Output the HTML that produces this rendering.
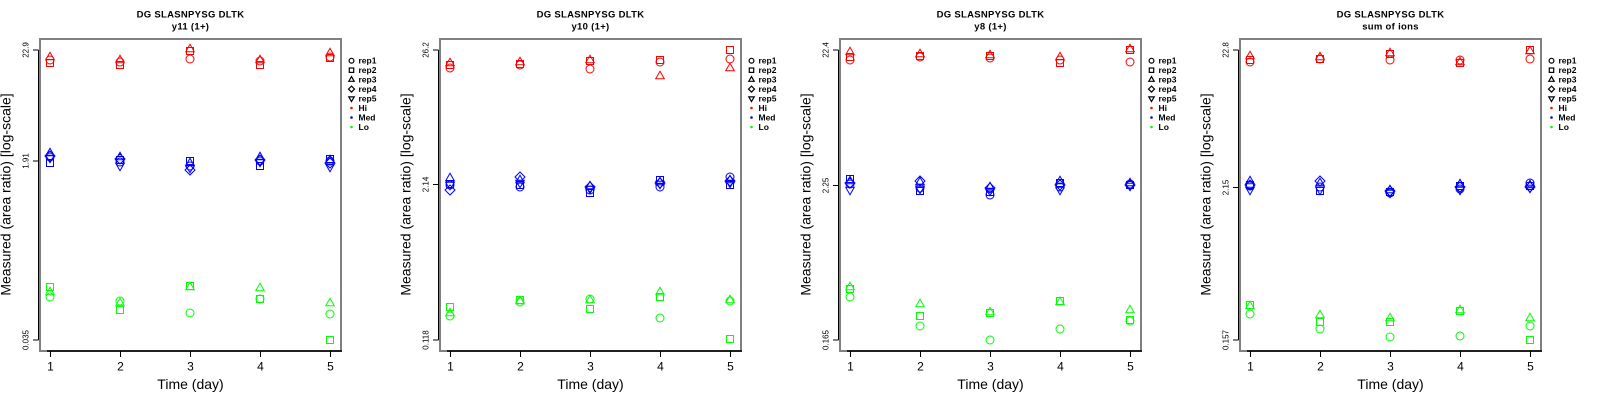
<!DOCTYPE html>
<html><head><meta charset="utf-8"><style>
html,body{margin:0;padding:0;background:#fff;}
svg{display:block;}
text{font-family:"Liberation Sans",sans-serif;fill:#000;}
.t{font-size:9.5px;font-weight:bold;letter-spacing:0.3px;}
.xl{font-size:12px;}
.yl{font-size:8px;}
.lab{font-size:14px;}
.lg{font-size:8.5px;font-weight:bold;}
</style></head><body>
<svg width="1600" height="400" viewBox="0 0 1600 400" xmlns="http://www.w3.org/2000/svg">
<defs>
<circle id="c" cx="0" cy="0" r="4"/>
<rect id="s" x="-3.5" y="-3.5" width="7" height="7"/>
<path id="t" d="M0,-4.8 L4.3,2.7 L-4.3,2.7 Z"/>
<path id="d" d="M0,-5 L5,0 L0,5 L-5,0 Z"/>
<path id="v" d="M0,4.8 L4.3,-2.7 L-4.3,-2.7 Z"/>
<circle id="lc" cx="0" cy="0" r="2.4"/>
<rect id="ls" x="-2.2" y="-2.2" width="4.4" height="4.4"/>
<path id="lt" d="M0,-3 L2.7,1.7 L-2.7,1.7 Z"/>
<path id="ld" d="M0,-3 L3,0 L0,3 L-3,0 Z"/>
<path id="lv" d="M0,3 L2.7,-1.7 L-2.7,-1.7 Z"/>
<g id="frame">
<rect x="40" y="39" width="301" height="312" fill="none" stroke="#808080" stroke-width="2"/>
<line x1="38.5" y1="50" x2="38.5" y2="340" stroke="#000" stroke-width="1"/>
<line x1="47" y1="351" x2="342" y2="351" stroke="#000" stroke-width="1.5"/>
<g stroke="#000" stroke-width="1">
<line x1="33" y1="50" x2="38.5" y2="50"/>
<line x1="33" y1="340" x2="38.5" y2="340"/>
<line x1="50.5" y1="351" x2="50.5" y2="357"/>
<line x1="120.5" y1="351" x2="120.5" y2="357"/>
<line x1="190.5" y1="351" x2="190.5" y2="357"/>
<line x1="260.5" y1="351" x2="260.5" y2="357"/>
<line x1="330.5" y1="351" x2="330.5" y2="357"/>
</g>
<text class="xl" x="50.5" y="370.5" text-anchor="middle">1</text>
<text class="xl" x="120.5" y="370.5" text-anchor="middle">2</text>
<text class="xl" x="190.5" y="370.5" text-anchor="middle">3</text>
<text class="xl" x="260.5" y="370.5" text-anchor="middle">4</text>
<text class="xl" x="330.5" y="370.5" text-anchor="middle">5</text>
<text class="lab" x="190.5" y="389" text-anchor="middle">Time (day)</text>
<text class="lab" transform="translate(10.5,194.5) rotate(-90)" text-anchor="middle">Measured (area ratio) [log-scale]</text>
<text class="t" x="190.5" y="17.5" text-anchor="middle">DG SLASNPYSG DLTK</text>
<g fill="none" stroke="#000" stroke-width="1.2">
<use href="#lc" x="351.5" y="60.7"/>
<use href="#ls" x="351.5" y="70.2"/>
<use href="#lt" x="351.5" y="79.6"/>
<use href="#ld" x="351.5" y="89.1"/>
<use href="#lv" x="351.5" y="98.6"/>
</g>
<circle cx="351.5" cy="108" r="1.3" fill="#ff0000"/>
<circle cx="351.5" cy="117.5" r="1.3" fill="#0000ff"/>
<circle cx="351.5" cy="127" r="1.3" fill="#00ff00"/>
<text class="lg" x="358.5" y="63.7">rep1</text>
<text class="lg" x="358.5" y="73.2">rep2</text>
<text class="lg" x="358.5" y="82.6">rep3</text>
<text class="lg" x="358.5" y="92.1">rep4</text>
<text class="lg" x="358.5" y="101.6">rep5</text>
<text class="lg" x="358.5" y="111">Hi</text>
<text class="lg" x="358.5" y="120.5">Med</text>
<text class="lg" x="358.5" y="130">Lo</text>
</g>
</defs>

<!-- Panel 1 -->
<g transform="translate(0,0)">
<use href="#frame"/>
<text class="t" x="190.5" y="29.5" text-anchor="middle">y11 (1+)</text>
<line x1="33" y1="161" x2="38.5" y2="161" stroke="#000"/>
<text class="yl" transform="translate(28.5,50) rotate(-90)" text-anchor="middle">22.9</text>
<text class="yl" transform="translate(28.5,161) rotate(-90)" text-anchor="middle">1.91</text>
<text class="yl" transform="translate(28.5,340) rotate(-90)" text-anchor="middle">0.035</text>
<g fill="none" stroke="#ff0000" stroke-width="1">
<use href="#c" x="50" y="60"/><use href="#s" x="50" y="63"/><use href="#t" x="50" y="57"/>
<use href="#c" x="120" y="62"/><use href="#s" x="120" y="65"/><use href="#t" x="120" y="60"/>
<use href="#c" x="190" y="59"/><use href="#s" x="190" y="51"/><use href="#t" x="190" y="49"/>
<use href="#c" x="260" y="61"/><use href="#s" x="260" y="65"/><use href="#t" x="260" y="60"/>
<use href="#c" x="330" y="57"/><use href="#s" x="330" y="58"/><use href="#t" x="330" y="53"/>
</g>
<g fill="none" stroke="#0000ff" stroke-width="1">
<use href="#c" x="50" y="157"/><use href="#s" x="50" y="163"/><use href="#t" x="50" y="153"/><use href="#d" x="50" y="156"/><use href="#v" x="50" y="158"/>
<use href="#c" x="120" y="162"/><use href="#s" x="120" y="160"/><use href="#t" x="120" y="157"/><use href="#d" x="120" y="159"/><use href="#v" x="120" y="166"/>
<use href="#c" x="190" y="166"/><use href="#s" x="190" y="161"/><use href="#t" x="190" y="163"/><use href="#d" x="190" y="170"/><use href="#v" x="190" y="168"/>
<use href="#c" x="260" y="161"/><use href="#s" x="260" y="166"/><use href="#t" x="260" y="157"/><use href="#d" x="260" y="160"/><use href="#v" x="260" y="162"/>
<use href="#c" x="330" y="161"/><use href="#s" x="330" y="159"/><use href="#t" x="330" y="160"/><use href="#d" x="330" y="163"/><use href="#v" x="330" y="167"/>
</g>
<g fill="none" stroke="#00ff00" stroke-width="1">
<use href="#c" x="50" y="297"/><use href="#s" x="50" y="287"/><use href="#t" x="50" y="292"/>
<use href="#c" x="120" y="301"/><use href="#s" x="120" y="310"/><use href="#t" x="120" y="303"/>
<use href="#c" x="190" y="313"/><use href="#s" x="190" y="286"/><use href="#t" x="190" y="287"/>
<use href="#c" x="260" y="299"/><use href="#s" x="260" y="299"/><use href="#t" x="260" y="288"/>
<use href="#c" x="330" y="314"/><use href="#s" x="330" y="340"/><use href="#t" x="330" y="303"/>
</g>
</g>

<!-- Panel 2 -->
<g transform="translate(400,0)">
<use href="#frame"/>
<text class="t" x="190.5" y="29.5" text-anchor="middle">y10 (1+)</text>
<line x1="33" y1="184.5" x2="38.5" y2="184.5" stroke="#000"/>
<text class="yl" transform="translate(28.5,50) rotate(-90)" text-anchor="middle">26.2</text>
<text class="yl" transform="translate(28.5,184.5) rotate(-90)" text-anchor="middle">2.14</text>
<text class="yl" transform="translate(28.5,340) rotate(-90)" text-anchor="middle">0.118</text>
<g fill="none" stroke="#ff0000" stroke-width="1">
<use href="#c" x="50" y="68"/><use href="#s" x="50" y="65"/><use href="#t" x="50" y="63"/>
<use href="#c" x="120" y="65"/><use href="#s" x="120" y="64"/><use href="#t" x="120" y="62"/>
<use href="#c" x="190" y="69"/><use href="#s" x="190" y="61"/><use href="#t" x="190" y="60"/>
<use href="#c" x="260" y="62"/><use href="#s" x="260" y="60"/><use href="#t" x="260" y="76"/>
<use href="#c" x="330" y="59"/><use href="#s" x="330" y="50"/><use href="#t" x="330" y="68"/>
</g>
<g fill="none" stroke="#0000ff" stroke-width="1">
<use href="#c" x="50" y="185"/><use href="#s" x="50" y="184"/><use href="#t" x="50" y="178"/><use href="#d" x="50" y="190"/><use href="#v" x="50" y="185"/>
<use href="#c" x="120" y="187"/><use href="#s" x="120" y="185"/><use href="#t" x="120" y="180"/><use href="#d" x="120" y="177"/><use href="#v" x="120" y="183"/>
<use href="#c" x="190" y="190"/><use href="#s" x="190" y="193"/><use href="#t" x="190" y="186"/><use href="#d" x="190" y="187"/><use href="#v" x="190" y="189"/>
<use href="#c" x="260" y="187"/><use href="#s" x="260" y="180"/><use href="#t" x="260" y="182"/><use href="#d" x="260" y="183"/><use href="#v" x="260" y="184"/>
<use href="#c" x="330" y="177"/><use href="#s" x="330" y="185"/><use href="#t" x="330" y="180"/><use href="#d" x="330" y="181"/><use href="#v" x="330" y="183"/>
</g>
<g fill="none" stroke="#00ff00" stroke-width="1">
<use href="#c" x="50" y="316"/><use href="#s" x="50" y="307"/><use href="#t" x="50" y="313"/>
<use href="#c" x="120" y="302"/><use href="#s" x="120" y="300"/><use href="#t" x="120" y="301"/>
<use href="#c" x="190" y="299"/><use href="#s" x="190" y="309"/><use href="#t" x="190" y="300"/>
<use href="#c" x="260" y="318"/><use href="#s" x="260" y="297"/><use href="#t" x="260" y="292"/>
<use href="#c" x="330" y="301"/><use href="#s" x="330" y="339"/><use href="#t" x="330" y="300"/>
</g>
</g>

<!-- Panel 3 -->
<g transform="translate(800,0)">
<use href="#frame"/>
<text class="t" x="190.5" y="29.5" text-anchor="middle">y8 (1+)</text>
<line x1="33" y1="185.5" x2="38.5" y2="185.5" stroke="#000"/>
<text class="yl" transform="translate(28.5,50) rotate(-90)" text-anchor="middle">22.4</text>
<text class="yl" transform="translate(28.5,185.5) rotate(-90)" text-anchor="middle">2.25</text>
<text class="yl" transform="translate(28.5,340) rotate(-90)" text-anchor="middle">0.165</text>
<g fill="none" stroke="#ff0000" stroke-width="1">
<use href="#c" x="50" y="60"/><use href="#s" x="50" y="57"/><use href="#t" x="50" y="52"/>
<use href="#c" x="120" y="57"/><use href="#s" x="120" y="56"/><use href="#t" x="120" y="54"/>
<use href="#c" x="190" y="58"/><use href="#s" x="190" y="56"/><use href="#t" x="190" y="55"/>
<use href="#c" x="260" y="60"/><use href="#s" x="260" y="63"/><use href="#t" x="260" y="57"/>
<use href="#c" x="330" y="62"/><use href="#s" x="330" y="50"/><use href="#t" x="330" y="49"/>
</g>
<g fill="none" stroke="#0000ff" stroke-width="1">
<use href="#c" x="50" y="184"/><use href="#s" x="50" y="179"/><use href="#t" x="50" y="181"/><use href="#d" x="50" y="183"/><use href="#v" x="50" y="190"/>
<use href="#c" x="120" y="188"/><use href="#s" x="120" y="191"/><use href="#t" x="120" y="182"/><use href="#d" x="120" y="181"/><use href="#v" x="120" y="189"/>
<use href="#c" x="190" y="195"/><use href="#s" x="190" y="192"/><use href="#t" x="190" y="187"/><use href="#d" x="190" y="188"/><use href="#v" x="190" y="191"/>
<use href="#c" x="260" y="187"/><use href="#s" x="260" y="183"/><use href="#t" x="260" y="181"/><use href="#d" x="260" y="185"/><use href="#v" x="260" y="190"/>
<use href="#c" x="330" y="184"/><use href="#s" x="330" y="185"/><use href="#t" x="330" y="183"/><use href="#d" x="330" y="185"/><use href="#v" x="330" y="186"/>
</g>
<g fill="none" stroke="#00ff00" stroke-width="1">
<use href="#c" x="50" y="297"/><use href="#s" x="50" y="289"/><use href="#t" x="50" y="287"/>
<use href="#c" x="120" y="326"/><use href="#s" x="120" y="316"/><use href="#t" x="120" y="304"/>
<use href="#c" x="190" y="340"/><use href="#s" x="190" y="313"/><use href="#t" x="190" y="312"/>
<use href="#c" x="260" y="329"/><use href="#s" x="260" y="301"/><use href="#t" x="260" y="302"/>
<use href="#c" x="330" y="321"/><use href="#s" x="330" y="320"/><use href="#t" x="330" y="310"/>
</g>
</g>

<!-- Panel 4 -->
<g transform="translate(1200,0)">
<use href="#frame"/>
<text class="t" x="190.5" y="29.5" text-anchor="middle">sum of ions</text>
<line x1="33" y1="187.5" x2="38.5" y2="187.5" stroke="#000"/>
<text class="yl" transform="translate(28.5,50) rotate(-90)" text-anchor="middle">22.8</text>
<text class="yl" transform="translate(28.5,187.5) rotate(-90)" text-anchor="middle">2.15</text>
<text class="yl" transform="translate(28.5,340) rotate(-90)" text-anchor="middle">0.157</text>
<g fill="none" stroke="#ff0000" stroke-width="1">
<use href="#c" x="50" y="62"/><use href="#s" x="50" y="60"/><use href="#t" x="50" y="56"/>
<use href="#c" x="120" y="59"/><use href="#s" x="120" y="59"/><use href="#t" x="120" y="57"/>
<use href="#c" x="190" y="60"/><use href="#s" x="190" y="54"/><use href="#t" x="190" y="53"/>
<use href="#c" x="260" y="60"/><use href="#s" x="260" y="63"/><use href="#t" x="260" y="62"/>
<use href="#c" x="330" y="59"/><use href="#s" x="330" y="50"/><use href="#t" x="330" y="51"/>
</g>
<g fill="none" stroke="#0000ff" stroke-width="1">
<use href="#c" x="50" y="186"/><use href="#s" x="50" y="185"/><use href="#t" x="50" y="181"/><use href="#d" x="50" y="185"/><use href="#v" x="50" y="190"/>
<use href="#c" x="120" y="187"/><use href="#s" x="120" y="191"/><use href="#t" x="120" y="183"/><use href="#d" x="120" y="181"/><use href="#v" x="120" y="190"/>
<use href="#c" x="190" y="193"/><use href="#s" x="190" y="192"/><use href="#t" x="190" y="190"/><use href="#d" x="190" y="191"/><use href="#v" x="190" y="193"/>
<use href="#c" x="260" y="189"/><use href="#s" x="260" y="186"/><use href="#t" x="260" y="184"/><use href="#d" x="260" y="187"/><use href="#v" x="260" y="190"/>
<use href="#c" x="330" y="183"/><use href="#s" x="330" y="186"/><use href="#t" x="330" y="185"/><use href="#d" x="330" y="187"/><use href="#v" x="330" y="188"/>
</g>
<g fill="none" stroke="#00ff00" stroke-width="1">
<use href="#c" x="50" y="314"/><use href="#s" x="50" y="305"/><use href="#t" x="50" y="306"/>
<use href="#c" x="120" y="329"/><use href="#s" x="120" y="322"/><use href="#t" x="120" y="315"/>
<use href="#c" x="190" y="337"/><use href="#s" x="190" y="322"/><use href="#t" x="190" y="318"/>
<use href="#c" x="260" y="336"/><use href="#s" x="260" y="311"/><use href="#t" x="260" y="310"/>
<use href="#c" x="330" y="326"/><use href="#s" x="330" y="340"/><use href="#t" x="330" y="318"/>
</g>
</g>
</svg>
</body></html>
